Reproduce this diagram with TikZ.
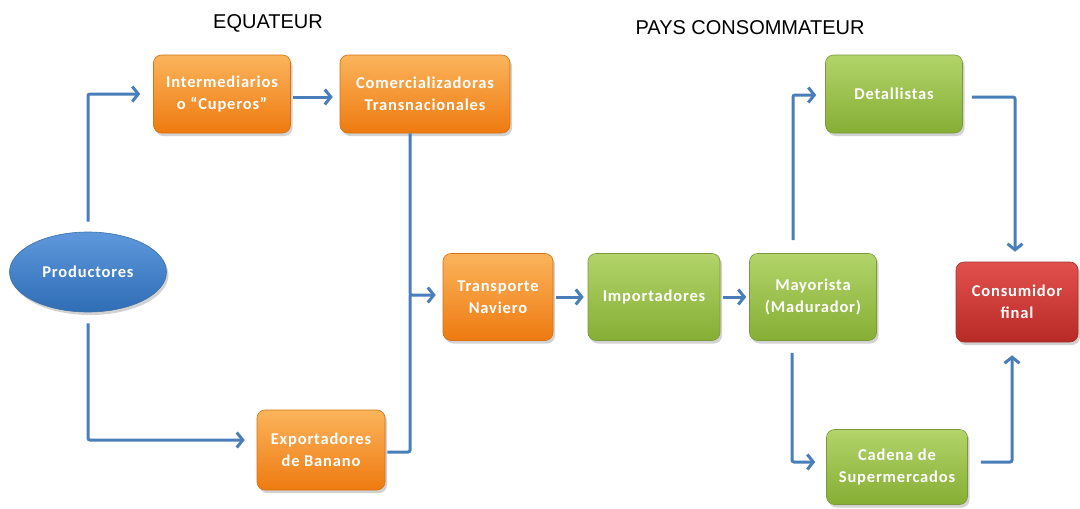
\documentclass[tikz,border=0pt]{standalone}
\usepackage{fontspec}
\setmainfont{Carlito}
\newfontfamily\boxfont[LetterSpace=5]{Carlito}
\newfontfamily\titlefont{Liberation Sans}
\usetikzlibrary{arrows.meta,shapes.geometric,shadows}
\definecolor{flowblue}{HTML}{4A7EBB}
\definecolor{orTop}{HTML}{FBB45C}
\definecolor{orBot}{HTML}{EE7A10}
\definecolor{orLine}{HTML}{D8700E}
\definecolor{grTop}{HTML}{B2D46A}
\definecolor{grBot}{HTML}{86AE34}
\definecolor{grLine}{HTML}{7A9A3A}
\definecolor{rdTop}{HTML}{E2504C}
\definecolor{rdBot}{HTML}{B82A26}
\definecolor{rdLine}{HTML}{A0302C}
\definecolor{blTop}{HTML}{5E98DC}
\definecolor{blBot}{HTML}{2F6DB5}
\definecolor{blLine}{HTML}{3C6FA8}
\tikzset{
  boxtext/.style={text=white, font=\boxfont\fontsize{16.5}{22}\selectfont\bfseries},
  box/.style={rounded corners=8pt, align=center, boxtext, inner sep=2pt,
    drop shadow={shadow xshift=2pt, shadow yshift=-3pt, opacity=0.35}},
  orbox/.style={box, top color=orTop, bottom color=orBot, draw=orLine, line width=0.6pt},
  grbox/.style={box, top color=grTop, bottom color=grBot, draw=grLine, line width=0.6pt},
  rdbox/.style={box, top color=rdTop, bottom color=rdBot, draw=rdLine, line width=0.6pt},
  flow/.style={draw=flowblue, line width=3pt, rounded corners=2pt,
    -{Straight Barb[length=6pt,width=15pt,line width=3pt]}},
  plainflow/.style={draw=flowblue, line width=3pt, rounded corners=2pt},
  ttl/.style={font=\titlefont\fontsize{20}{23}\selectfont, text=black}
}
\begin{document}
\begin{tikzpicture}[x=1pt,y=-1pt]
\useasboundingbox (0,0) rectangle (1080,509);
\fill[white] (0,0) rectangle (1080,509);
% titles
\node[ttl] (t1) at (268,23) {EQUATEUR};
\node[ttl] (t2) at (750,28) {PAYS CONSOMMATEUR};
% nodes
\node[ellipse, minimum width=157pt, minimum height=80pt, top color=blTop, bottom color=blBot,
  draw=blLine, line width=0.6pt, boxtext,
  drop shadow={shadow xshift=2pt, shadow yshift=-3pt, opacity=0.35}] (prod) at (88,272) {Productores};
\node[orbox, minimum width=137pt, minimum height=78pt] (inter) at (222,94) {Intermediarios\\o “Cuperos”};
\node[orbox, minimum width=170pt, minimum height=78pt] (comer) at (425,94) {Comercializadoras\\Transnacionales};
\node[orbox, minimum width=110pt, minimum height=87pt] (trans) at (498,297) {Transporte\\Naviero};
\node[orbox, minimum width=128pt, minimum height=80pt] (expo) at (321,450) {Exportadores\\de Banano};
\node[grbox, minimum width=132pt, minimum height=87pt] (impo) at (654,297) {Importadores};
\node[grbox, minimum width=127pt, minimum height=87pt] (mayo) at (813,297) {Mayorista\\(Madurador)};
\node[grbox, minimum width=137pt, minimum height=78pt] (deta) at (894,94) {Detallistas};
\node[grbox, minimum width=141pt, minimum height=75pt] (cade) at (897,467) {Cadena de\\Supermercados};
\node[rdbox, minimum width=122pt, minimum height=80pt] (cons) at (1017,302) {Consumidor\\final};
% connectors
\draw[flow] ([yshift=10pt]prod.north) |- ([xshift=-13pt]inter.west);
\draw[flow] ([yshift=-11pt]prod.south) |- ([xshift=-12pt,yshift=10pt]expo.west);
\draw[flow] ([xshift=2pt,yshift=-3pt]inter.east) -- ([xshift=-7pt,yshift=-3pt]comer.west);
\coordinate (j) at ([xshift=-15pt]comer.south |- trans.west);
\draw[flow] ([xshift=-15pt]comer.south) |- ([xshift=-7pt,yshift=2pt]trans.west);
\draw[plainflow] ([xshift=2pt,yshift=-2pt]expo.east) -| ([yshift=2pt]j);
\draw[flow] ([xshift=3pt]trans.east) -- ([xshift=-4pt]impo.west);
\draw[flow] ([xshift=3pt]impo.east) -- ([xshift=-3pt]mayo.west);
\draw[flow] ([xshift=-20pt,yshift=13pt]mayo.north) |- ([xshift=-9pt,yshift=-1pt]deta.west);
\draw[flow] ([xshift=9pt,yshift=-3pt]deta.east) -| ([xshift=-2pt,yshift=10pt]cons.north);
\draw[flow] ([xshift=-21pt,yshift=-12pt]mayo.south) |- ([xshift=-11pt,yshift=5pt]cade.west);
\draw[flow] ([xshift=13pt,yshift=5pt]cade.east) -| ([xshift=-5pt,yshift=-13pt]cons.south);
\end{tikzpicture}
\end{document}
